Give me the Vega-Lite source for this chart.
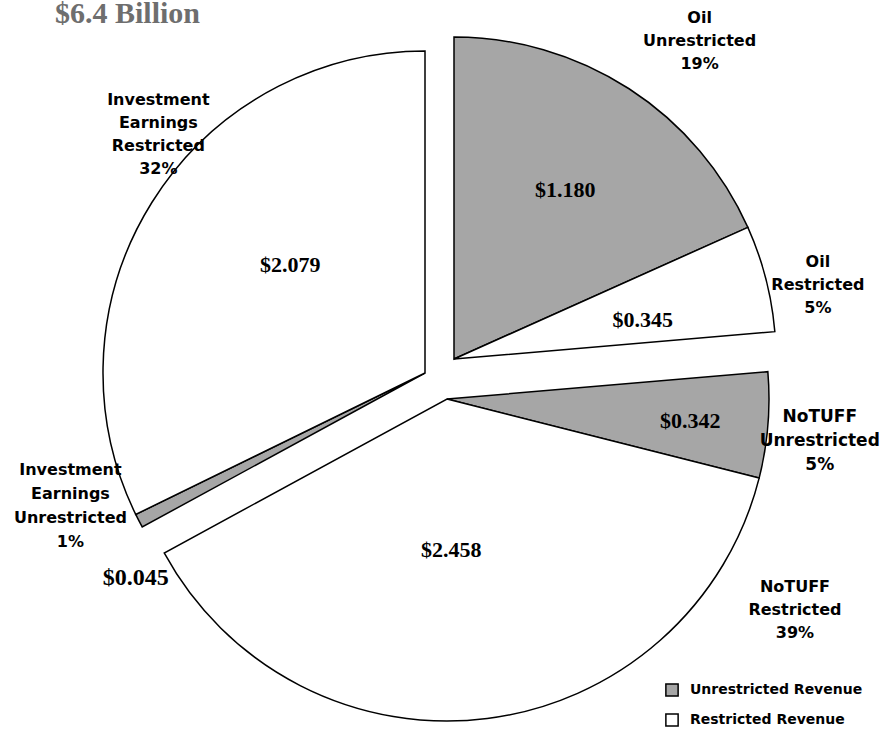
{
  "$schema": "https://vega.github.io/schema/vega-lite/v6.json",
  "autosize": {"type": "none"},
  "width": 880,
  "height": 750,
  "padding": {"left": 0, "right": 0, "top": 0, "bottom": 0},
  "background": "white",
  "config": {"view": {"stroke": null}},
  "title": {"text": "$6.4 Billion", "orient": "none", "anchor": "start", "frame": "group", "baseline": "alphabetic", "dx": 55, "dy": 23, "offset": 0, "font": "Liberation Serif", "fontSize": 30, "fontWeight": "bold", "color": "#6e6e6e"},
  "data": {"values": [
    {"idx": 1, "key": "OilU", "group": "Oil", "type": "Unrestricted Revenue", "value": 1.180, "amount": "$1.180", "label": "Oil\nUnrestricted\n19%"},
    {"idx": 2, "key": "OilR", "group": "Oil", "type": "Restricted Revenue", "value": 0.345, "amount": "$0.345", "label": "Oil\nRestricted\n5%"},
    {"idx": 3, "key": "NTU", "group": "NoTUFF", "type": "Unrestricted Revenue", "value": 0.342, "amount": "$0.342", "label": "NoTUFF\nUnrestricted\n5%"},
    {"idx": 4, "key": "NTR", "group": "NoTUFF", "type": "Restricted Revenue", "value": 2.458, "amount": "$2.458", "label": "NoTUFF\nRestricted\n39%"},
    {"idx": 5, "key": "IEU", "group": "IE", "type": "Unrestricted Revenue", "value": 0.045, "amount": "$0.045", "label": "Investment\nEarnings\nUnrestricted\n1%"},
    {"idx": 6, "key": "IER", "group": "IE", "type": "Restricted Revenue", "value": 2.079, "amount": "$2.079", "label": "Investment\nEarnings\nRestricted\n32%"}
  ]},
  "encoding": {
    "theta": {"field": "value", "type": "quantitative", "stack": true},
    "order": {"field": "idx", "type": "quantitative"}
  },
  "layer": [
    {
      "mark": {"type": "arc", "radius": 322, "stroke": "black", "strokeWidth": 1.5, "xOffset": 14, "yOffset": -16},
      "encoding": {
        "color": {"field": "type", "type": "nominal", "scale": {"domain": ["Unrestricted Revenue", "Restricted Revenue"], "range": ["#a6a6a6", "#ffffff"]},
          "legend": {"title": null, "orient": "none", "legendX": 665, "legendY": 683, "symbolType": "square", "symbolSize": 150, "symbolStrokeColor": "black", "symbolStrokeWidth": 1.5, "labelFont": "DejaVu Sans", "labelFontWeight": "bold", "labelFontSize": 14, "labelColor": "black", "labelLimit": 400, "rowPadding": 10, "labelOffset": 11}},
        "opacity": {"condition": {"test": "datum.group === 'Oil'", "value": 1}, "value": 0}
      }
    },
    {
      "mark": {"type": "arc", "radius": 322, "stroke": "black", "strokeWidth": 1.5, "xOffset": 7, "yOffset": 24},
      "encoding": {
        "color": {"field": "type", "type": "nominal"},
        "opacity": {"condition": {"test": "datum.group === 'NoTUFF'", "value": 1}, "value": 0}
      }
    },
    {
      "mark": {"type": "arc", "radius": 322, "stroke": "black", "strokeWidth": 1.5, "xOffset": -15, "yOffset": -2},
      "encoding": {
        "color": {"field": "type", "type": "nominal"},
        "opacity": {"condition": {"test": "datum.group === 'IE'", "value": 1}, "value": 0}
      }
    },
    {
      "mark": {"type": "text", "radius": 210, "dx": 11, "dy": -9, "font": "Liberation Serif", "fontWeight": "bold", "fontSize": 22, "color": "black"},
      "encoding": {"text": {"field": "amount", "type": "nominal", "condition": {"test": "datum.key !== 'OilU'", "value": ""}}}
    },
    {
      "mark": {"type": "text", "radius": 200, "dx": 9, "dy": -5, "font": "Liberation Serif", "fontWeight": "bold", "fontSize": 22, "color": "black"},
      "encoding": {"text": {"field": "amount", "type": "nominal", "condition": {"test": "datum.key !== 'OilR'", "value": ""}}}
    },
    {
      "mark": {"type": "text", "radius": 250, "dx": 1, "dy": 26, "font": "Liberation Serif", "fontWeight": "bold", "fontSize": 22, "color": "black"},
      "encoding": {"text": {"field": "amount", "type": "nominal", "condition": {"test": "datum.key !== 'NTU'", "value": ""}}}
    },
    {
      "mark": {"type": "text", "radius": 170, "dx": -10, "dy": 6, "font": "Liberation Serif", "fontWeight": "bold", "fontSize": 22, "color": "black"},
      "encoding": {"text": {"field": "amount", "type": "nominal", "condition": {"test": "datum.key !== 'NTR'", "value": ""}}}
    },
    {
      "mark": {"type": "text", "radius": 180, "dx": 3, "dy": -15, "font": "Liberation Serif", "fontWeight": "bold", "fontSize": 22, "color": "black"},
      "encoding": {"text": {"field": "amount", "type": "nominal", "condition": {"test": "datum.key !== 'IER'", "value": ""}}}
    },
    {
      "mark": {"type": "text", "radius": 320, "dx": -20, "dy": 56, "font": "Liberation Serif", "fontWeight": "bold", "fontSize": 24, "color": "black"},
      "encoding": {"text": {"field": "amount", "type": "nominal", "condition": {"test": "datum.key !== 'IEU'", "value": ""}}}
    },
    {
      "mark": {"type": "text", "radius": 380, "dx": 53, "dy": -38, "lineBreak": "\n", "lineHeight": 23, "font": "DejaVu Sans", "fontWeight": "bold", "fontSize": 16, "color": "black"},
      "encoding": {"text": {"field": "label", "type": "nominal", "condition": {"test": "datum.key !== 'OilU'", "value": ""}}}
    },
    {
      "mark": {"type": "text", "radius": 380, "dx": 10, "dy": -18, "lineBreak": "\n", "lineHeight": 23, "font": "DejaVu Sans", "fontWeight": "bold", "fontSize": 16, "color": "black"},
      "encoding": {"text": {"field": "label", "type": "nominal", "condition": {"test": "datum.key !== 'OilR'", "value": ""}}}
    },
    {
      "mark": {"type": "text", "radius": 380, "dx": 1, "dy": 11, "lineBreak": "\n", "lineHeight": 24, "font": "DejaVu Sans", "fontWeight": "bold", "fontSize": 17, "color": "black"},
      "encoding": {"text": {"field": "label", "type": "nominal", "condition": {"test": "datum.key !== 'NTU'", "value": ""}}}
    },
    {
      "mark": {"type": "text", "radius": 200, "dx": 330, "dy": 14, "lineBreak": "\n", "lineHeight": 23, "font": "DejaVu Sans", "fontWeight": "bold", "fontSize": 16, "color": "black"},
      "encoding": {"text": {"field": "label", "type": "nominal", "condition": {"test": "datum.key !== 'NTR'", "value": ""}}}
    },
    {
      "mark": {"type": "text", "radius": 300, "dx": -103, "dy": -43, "lineBreak": "\n", "lineHeight": 24, "font": "DejaVu Sans", "fontWeight": "bold", "fontSize": 16, "color": "black"},
      "encoding": {"text": {"field": "label", "type": "nominal", "condition": {"test": "datum.key !== 'IEU'", "value": ""}}}
    },
    {
      "mark": {"type": "text", "radius": 200, "dx": -112, "dy": -169, "lineBreak": "\n", "lineHeight": 23, "font": "DejaVu Sans", "fontWeight": "bold", "fontSize": 16, "color": "black"},
      "encoding": {"text": {"field": "label", "type": "nominal", "condition": {"test": "datum.key !== 'IER'", "value": ""}}}
    }
  ]
}
